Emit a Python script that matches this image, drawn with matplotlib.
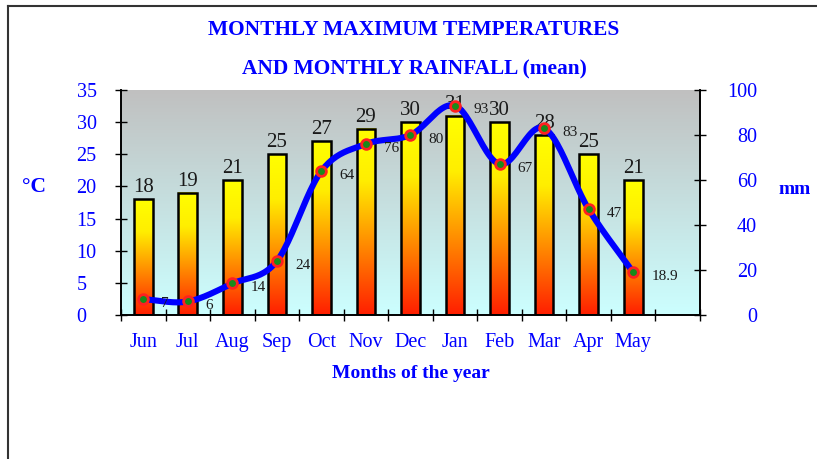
import numpy as np
import matplotlib.pyplot as plt
from matplotlib.colors import LinearSegmentedColormap
from matplotlib.patches import Rectangle
from matplotlib.lines import Line2D

months = ["Jun", "Jul", "Aug", "Sep", "Oct", "Nov", "Dec", "Jan", "Feb", "Mar", "Apr", "May"]
temp_max = [18, 19, 21, 25, 27, 29, 30, 31, 30, 28, 25, 21]
rainfall = [7, 6, 14, 24, 64, 76, 80, 93, 67, 83, 47, 18.9]
rain_labels = ["7", "6", "14", "24", "64", "76", "80", "93", "67", "83", "47", "18.9"]

plt.rcParams['font.family'] = ['Liberation Serif', 'DejaVu Serif']
BLUE = '#0000ff'


def catmull_rom(xs, ys, n=24):
    # smooth curve through the points (for drawing only)
    px = np.r_[2 * xs[0] - xs[1], xs, 2 * xs[-1] - xs[-2]]
    py = np.r_[2 * ys[0] - ys[1], ys, 2 * ys[-1] - ys[-2]]
    ox, oy = [], []
    t = np.linspace(0, 1, n, endpoint=False)
    for i in range(1, len(px) - 2):
        for p, o in ((px, ox), (py, oy)):
            p0, p1, p2, p3 = p[i - 1], p[i], p[i + 1], p[i + 2]
            o.extend(0.5 * (2 * p1 + (-p0 + p2) * t
                            + (2 * p0 - 5 * p1 + 4 * p2 - p3) * t ** 2
                            + (-p0 + 3 * p1 - 3 * p2 + p3) * t ** 3))
    ox.append(xs[-1])
    oy.append(ys[-1])
    return np.array(ox), np.array(oy)


fig = plt.figure(figsize=(8.17, 4.59), dpi=100)
ax = fig.add_axes([121 / 817, 1 - 315 / 459, 579 / 817, 225 / 459])
ax2 = ax.twinx()

x = np.arange(len(months))
ax.set_xlim(-0.5, len(months) + 0.5)
ax.set_ylim(0, 35)
ax2.set_ylim(0, 100)

# plot area background gradient
bg = LinearSegmentedColormap.from_list('bg', ['#ccffff', '#c0c0c0'])
ax.imshow(np.linspace(0, 1, 256).reshape(-1, 1), cmap=bg, origin='lower',
          extent=[-0.5, len(months) + 0.5, 0, 35], aspect='auto', zorder=0)

# gradient bars
barcm = LinearSegmentedColormap.from_list(
    'bar', [(0, '#ff1e00'), (0.38, '#ff8c00'), (0.72, '#ffee00'), (1, '#ffff00')])
w = 0.42
grad = np.linspace(0, 1, 256).reshape(-1, 1)
for xi, t in zip(x, temp_max):
    ax.imshow(grad, cmap=barcm, origin='lower', extent=[xi - w / 2, xi + w / 2, 0, t],
              aspect='auto', zorder=2)
    ax.add_patch(Rectangle((xi - w / 2, 0), w, t, fill=False, ec='black', lw=1.8, zorder=3))
    ax.text(xi, t + 0.3, str(t), ha='center', va='bottom', fontsize=15, color='#1a1a1a', zorder=4)

# rainfall line
sx, sy = catmull_rom(x.astype(float), np.array(rainfall, dtype=float))
ax2.plot(sx, sy, color=BLUE, lw=4.4, solid_capstyle='round', zorder=5)
ax2.plot(x, rainfall, 'o', ms=7, mfc='#1a8a1a', mec='#ff2020', mew=2, zorder=6)
for xi, r, lab in zip(x, rainfall, rain_labels):
    ax2.annotate(lab, (xi, r), xytext=(13, -3), textcoords='offset points',
                 ha='left', va='center', fontsize=11, color='#1a1a1a', zorder=7)

ax.set_xlim(-0.5, len(months) + 0.5)
ax.set_ylim(0, 35)

# axes styling
for a in (ax, ax2):
    a.spines['top'].set_visible(False)
ax.set_xticks(x)
ax.set_xticklabels(months, color=BLUE, fontsize=14.5)
ax.set_xticks(np.arange(-0.5, len(months) + 1), minor=True)
ax.tick_params(axis='x', which='major', length=0, pad=13)
ax.tick_params(axis='x', which='minor', direction='inout', length=8, width=1)
ax.set_yticks(range(0, 36, 5))
ax.tick_params(axis='y', direction='inout', length=8, width=1, labelsize=14.5,
               labelcolor=BLUE, pad=28)
for lab in ax.get_yticklabels():
    lab.set_horizontalalignment('left')
ax2.set_yticks(range(0, 101, 20))
ax2.tick_params(axis='y', direction='inout', length=8, width=1, labelsize=14.5,
                labelcolor=BLUE, pad=37)
for lab in ax2.get_yticklabels():
    lab.set_horizontalalignment('right')
for a in (ax, ax2):
    for s in ('left', 'right', 'bottom'):
        a.spines[s].set_linewidth(1.2)

ax.set_xlabel("Months of the year", color=BLUE, fontsize=14, fontweight='bold', labelpad=9)

fig.text(414 / 817, 1 - 30 / 459, "MONTHLY MAXIMUM TEMPERATURES", ha='center', va='center',
         color=BLUE, fontsize=15.4, fontweight='bold')
fig.text(414 / 817, 1 - 69 / 459, "AND MONTHLY RAINFALL (mean)", ha='center', va='center',
         color=BLUE, fontsize=15.4, fontweight='bold')
fig.text(34 / 817, 1 - 187 / 459, "°C", ha='center', va='center', color=BLUE,
         fontsize=15.5, fontweight='bold')
fig.text(795 / 817, 1 - 190 / 459, "mm", ha='center', va='center', color=BLUE,
         fontsize=14, fontweight='bold')

# outer frame (top and left edges visible)
fig.add_artist(Line2D([8 / 817, 1], [1 - 6 / 459, 1 - 6 / 459], color='#333333', lw=1.5))
fig.add_artist(Line2D([8 / 817, 8 / 817], [0, 1 - 6 / 459], color='#333333', lw=1.5))

fig.savefig("out.png", dpi=100)
